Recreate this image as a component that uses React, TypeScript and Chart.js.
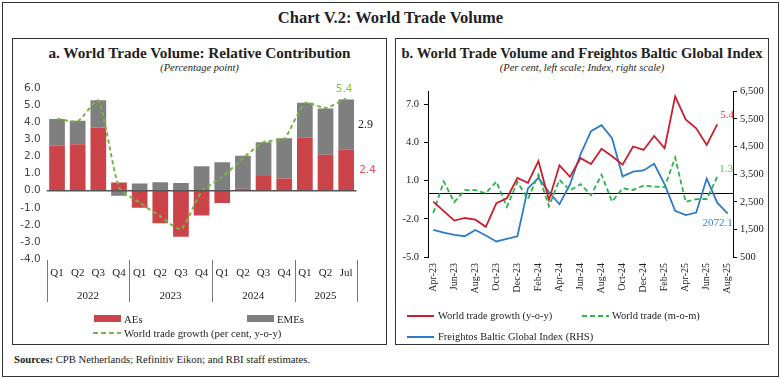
import React, { useEffect, useRef } from "react";
import { Chart, registerables } from "chart.js";

Chart.register(...registerables);

// ---------- Panel a data ----------
const quarterLabels = ["Q1", "Q2", "Q3", "Q4", "Q1", "Q2", "Q3", "Q4", "Q1", "Q2", "Q3", "Q4", "Q1", "Q2", "Jul"];
const yearGroups = [
  { year: "2022", first: 0, last: 3 },
  { year: "2023", first: 4, last: 7 },
  { year: "2024", first: 8, last: 11 },
  { year: "2025", first: 12, last: 14 },
];
const aeContribution = [2.65, 2.72, 3.7, 0.48, -1.0, -1.9, -2.7, -1.45, -0.72, 0.12, 0.86, 0.72, 3.1, 2.1, 2.4];
const emeContribution = [1.55, 1.38, 1.6, -0.3, 0.42, 0.5, 0.45, 1.44, 1.67, 1.93, 1.98, 2.36, 2.06, 2.72, 2.95];
const worldTradeGrowthQ = [4.22, 4.07, 5.28, 0.2, -0.7, -1.5, -2.25, -0.05, 0.8, 1.9, 2.85, 3.05, 5.13, 4.85, 5.4];

// ---------- Panel b data ----------
const monthLabels = [
  "Apr-23", "May-23", "Jun-23", "Jul-23", "Aug-23", "Sep-23", "Oct-23", "Nov-23", "Dec-23",
  "Jan-24", "Feb-24", "Mar-24", "Apr-24", "May-24", "Jun-24", "Jul-24", "Aug-24", "Sep-24",
  "Oct-24", "Nov-24", "Dec-24", "Jan-25", "Feb-25", "Mar-25", "Apr-25", "May-25", "Jun-25",
  "Jul-25", "Aug-25",
];
const tradeGrowthYoY = [-0.65, -1.4, -2.14, -1.94, -2.07, -2.63, -0.78, -0.39, 1.2, 0.82, 2.52, -0.52, 2.19, 1.29, 2.76, 2.3, 3.5, 2.9, 2.24, 3.67, 3.4, 4.5, 3.53, 7.6, 5.8, 5.1, 3.79, 5.4];
const tradeMoM = [-1.55, 0.92, -0.7, 0.25, 0.25, 0.0, 0.92, -1.05, 0.88, -0.45, 1.45, -1.03, 1.05, 0.22, 0.72, -0.15, 1.45, -0.65, 0.39, 0.26, 0.6, 0.53, 0.48, 2.8, -0.68, -0.46, -0.45, 1.3];
const freightosIndex = [1480, 1384, 1301, 1251, 1480, 1276, 1062, 1158, 1251, 2983, 3362, 2851, 2411, 3127, 4220, 5058, 5273, 4800, 3419, 3590, 3635, 3875, 3127, 2171, 2017, 2110, 3341, 2468, 2072.1];
const leftTicksB = [-5, -2, 1, 4, 7];

const SERIF = "'Liberation Serif', 'Times New Roman', serif";
const SANS = "'DejaVu Sans', sans-serif";

const RED = "#CB4449";
const GRAY = "#7F7F7F";
const GREEN_A = "#78B543";
const RED_B = "#C8202F";
const GREEN_B = "#2DB34A";
const BLUE_B = "#2F7BC8";

function LeftChart() {
  const ref = useRef<HTMLCanvasElement | null>(null);
  useEffect(() => {
    if (!ref.current) return;
    const decor = {
      id: "leftDecor",
      afterDatasetsDraw(chart: any) {
        const { ctx, chartArea } = chart;
        const ys = chart.scales.y;
        ctx.save();
        const y0 = ys.getPixelForValue(0);
        ctx.strokeStyle = "#555";
        ctx.lineWidth = 1.5;
        ctx.beginPath();
        ctx.moveTo(chartArea.left, y0);
        ctx.lineTo(chartArea.right, y0);
        ctx.stroke();
        ctx.restore();
      },
      afterDraw(chart: any) {
        const { ctx, chartArea } = chart;
        const xs = chart.scales.x;
        const ys = chart.scales.y;
        ctx.save();
        const bounds: number[] = [chartArea.left];
        for (let g = 0; g < yearGroups.length - 1; g++) {
          const a = xs.getPixelForValue(yearGroups[g].last);
          const b = xs.getPixelForValue(yearGroups[g + 1].first);
          bounds.push((a + b) / 2);
        }
        bounds.push(chartArea.right);
        ctx.strokeStyle = "#777";
        ctx.lineWidth = 1;
        bounds.forEach((bx) => {
          const x = Math.round(bx) + 0.5;
          ctx.beginPath();
          ctx.moveTo(x, chartArea.bottom + 1);
          ctx.lineTo(x, chartArea.bottom + 43);
          ctx.stroke();
        });
        ctx.fillStyle = "#222";
        ctx.font = `11px ${SERIF}`;
        ctx.textAlign = "center";
        ctx.textBaseline = "middle";
        yearGroups.forEach((g) => {
          const cx = (xs.getPixelForValue(g.first) + xs.getPixelForValue(g.last)) / 2;
          ctx.fillText(g.year, cx, chartArea.bottom + 37);
        });
        const n = quarterLabels.length - 1;
        const lastX = xs.getPixelForValue(n);
        ctx.font = `10.5px ${SANS}`;
        ctx.fillStyle = "#8CBF4F";
        ctx.fillText(worldTradeGrowthQ[n].toFixed(1), lastX - 2, ys.getPixelForValue(worldTradeGrowthQ[n]) - 9);
        ctx.font = `12px ${SERIF}`;
        ctx.fillStyle = "#222";
        ctx.fillText("2.9", chartArea.right + 9, ys.getPixelForValue(aeContribution[n] + emeContribution[n] / 2));
        ctx.font = `10.5px ${SANS}`;
        ctx.fillStyle = "#E0505A";
        ctx.fillText(aeContribution[n].toFixed(1), chartArea.right + 11, ys.getPixelForValue(aeContribution[n] / 2));
        ctx.restore();
      },
    };
    const chart = new Chart(ref.current, {
      type: "bar",
      data: {
        labels: quarterLabels,
        datasets: [
          {
            type: "line",
            label: "World trade growth (per cent, y-o-y)",
            data: worldTradeGrowthQ,
            borderColor: GREEN_A,
            borderDash: [4, 3],
            borderWidth: 2,
            pointRadius: 0,
            tension: 0.2,
            fill: false,
            stack: "line",
            order: 0,
          } as any,
          {
            type: "bar",
            label: "AEs",
            data: aeContribution,
            backgroundColor: RED,
            stack: "bars",
            order: 1,
            barPercentage: 0.76,
            categoryPercentage: 1,
          },
          {
            type: "bar",
            label: "EMEs",
            data: emeContribution,
            backgroundColor: GRAY,
            stack: "bars",
            order: 1,
            barPercentage: 0.76,
            categoryPercentage: 1,
          },
        ],
      },
      options: {
        animation: false,
        responsive: false,
        maintainAspectRatio: false,
        layout: { padding: { left: 0, right: 29.5, top: 9.7, bottom: 0 } },
        plugins: { legend: { display: false }, tooltip: { enabled: false } },
        scales: {
          x: {
            stacked: true,
            grid: { display: false, drawTicks: false },
            border: { display: false },
            ticks: { autoSkip: false, maxRotation: 0, padding: 8, color: "#222", font: { family: SERIF, size: 11 } },
            afterFit: (s: any) => {
              s.height = 57;
            },
          },
          y: {
            stacked: true,
            min: -4,
            max: 6,
            grid: { display: false, drawTicks: false },
            border: { display: false },
            ticks: {
              stepSize: 1,
              padding: 6,
              color: "#444",
              font: { family: SANS, size: 10.5 },
              callback: (v: any) => Number(v).toFixed(1),
            },
            afterFit: (s: any) => {
              s.width = 36.7;
            },
          },
        },
      } as any,
      plugins: [decor],
    });
    return () => chart.destroy();
  }, []);
  return (
    <canvas
      ref={ref}
      width={376}
      height={240}
      style={{ position: "absolute", left: 10, top: 76, width: 376, height: 240 }}
    />
  );
}

function RightChart() {
  const ref = useRef<HTMLCanvasElement | null>(null);
  useEffect(() => {
    if (!ref.current) return;
    const decor = {
      id: "rightDecor",
      beforeDatasetsDraw(chart: any) {
        const { ctx, chartArea } = chart;
        const ys = chart.scales.y;
        ctx.save();
        const y0 = Math.round(ys.getPixelForValue(0)) + 0.5;
        ctx.strokeStyle = "#000";
        ctx.lineWidth = 1.2;
        ctx.beginPath();
        ctx.moveTo(chartArea.left, y0);
        ctx.lineTo(chartArea.right, y0);
        ctx.stroke();
        ctx.restore();
      },
      afterDraw(chart: any) {
        const { ctx } = chart;
        const xs = chart.scales.x;
        const ys = chart.scales.y;
        const y2 = chart.scales.y2;
        ctx.save();
        ctx.font = `11px ${SERIF}`;
        ctx.textBaseline = "middle";
        const iy = tradeGrowthYoY.length - 1;
        ctx.textAlign = "left";
        ctx.fillStyle = "#E0303F";
        ctx.fillText(tradeGrowthYoY[iy].toFixed(1), xs.getPixelForValue(iy) + 3, ys.getPixelForValue(tradeGrowthYoY[iy]) - 9);
        const im = tradeMoM.length - 1;
        ctx.fillStyle = "#5DBB63";
        ctx.fillText(tradeMoM[im].toFixed(1), xs.getPixelForValue(im) + 2, ys.getPixelForValue(tradeMoM[im]) - 8);
        const ib = freightosIndex.length - 1;
        ctx.textAlign = "right";
        ctx.fillStyle = "#3C85C8";
        ctx.fillText(freightosIndex[ib].toFixed(1), xs.getPixelForValue(ib) + 5, y2.getPixelForValue(freightosIndex[ib]) + 10);
        ctx.restore();
      },
    };
    const tickFont = { family: SERIF, size: 10.5 };
    const chart = new Chart(ref.current, {
      type: "line",
      data: {
        labels: monthLabels,
        datasets: [
          {
            label: "World trade growth (y-o-y)",
            data: tradeGrowthYoY,
            borderColor: RED_B,
            borderWidth: 1.8,
            pointRadius: 0,
            tension: 0,
            fill: false,
            yAxisID: "y",
          },
          {
            label: "World trade (m-o-m)",
            data: tradeMoM,
            borderColor: GREEN_B,
            borderWidth: 1.8,
            borderDash: [5, 3],
            pointRadius: 0,
            tension: 0,
            fill: false,
            yAxisID: "y",
          },
          {
            label: "Freightos Baltic Global Index (RHS)",
            data: freightosIndex,
            borderColor: BLUE_B,
            borderWidth: 1.8,
            pointRadius: 0,
            tension: 0,
            fill: false,
            yAxisID: "y2",
          },
        ],
      },
      options: {
        animation: false,
        responsive: false,
        maintainAspectRatio: false,
        layout: { padding: { left: 0, right: 0, top: 9, bottom: 0 } },
        plugins: { legend: { display: false }, tooltip: { enabled: false } },
        scales: {
          x: {
            offset: true,
            grid: { display: false, drawTicks: false },
            border: { display: false },
            ticks: {
              autoSkip: false,
              minRotation: 90,
              maxRotation: 90,
              padding: 6,
              color: "#222",
              font: { family: SERIF, size: 10 },
              callback: (v: any, i: number) => (i % 2 === 0 ? monthLabels[i] : ""),
            },
            afterFit: (s: any) => {
              s.height = 48;
            },
          },
          y: {
            position: "left",
            min: -5,
            max: 8,
            afterBuildTicks: (s: any) => {
              s.ticks = leftTicksB.map((v) => ({ value: v }));
            },
            grid: { display: true, drawOnChartArea: false, drawTicks: true, tickLength: 4, color: "#000" },
            border: { display: true, color: "#000", width: 1 },
            ticks: { padding: 5, color: "#222", font: tickFont, callback: (v: any) => Number(v).toFixed(1) },
            afterFit: (s: any) => {
              s.width = 31;
            },
          },
          y2: {
            position: "right",
            min: 500,
            max: 6500,
            grid: { display: true, drawOnChartArea: false, drawTicks: true, tickLength: 4, color: "#000" },
            border: { display: true, color: "#000", width: 1 },
            ticks: { stepSize: 1000, padding: 3, color: "#222", font: tickFont },
            afterFit: (s: any) => {
              s.width = 38;
            },
          },
        },
      } as any,
      plugins: [decor],
    });
    return () => chart.destroy();
  }, []);
  return (
    <canvas
      ref={ref}
      width={374}
      height={225}
      style={{ position: "absolute", left: 397, top: 80, width: 374, height: 225 }}
    />
  );
}

const abs = (o: React.CSSProperties): React.CSSProperties => ({ position: "absolute", ...o });
const legendText: React.CSSProperties = {
  fontFamily: SERIF,
  fontSize: 10.5,
  color: "#222",
  lineHeight: "12px",
  whiteSpace: "nowrap",
};

function DashSwatch({ left, top, color, width }: { left: number; top: number; color: string; width: number }) {
  return (
    <svg style={abs({ left, top: top - 2, width, height: 4 })} width={width} height={4}>
      <line x1={0} y1={2} x2={width} y2={2} stroke={color} strokeWidth={2} strokeDasharray="5,3" />
    </svg>
  );
}

export default function App() {
  return (
    <div style={abs({ left: 0, top: 0, width: 781, height: 380, background: "#fff", overflow: "hidden", fontFamily: SERIF })}>
      <div style={abs({ left: 2, top: 2, width: 775, height: 373, border: "1px solid #333" })} />
      <div style={abs({ left: 0, top: 8, width: 781, textAlign: "center", fontSize: 16.5, fontWeight: "bold", lineHeight: "20px", color: "#222" })}>
        Chart V.2: World Trade Volume
      </div>

      {/* Panel a */}
      <div style={abs({ left: 12, top: 38, width: 373, height: 305, border: "1px solid #333" })} />
      <div style={abs({ left: 12, top: 44, width: 375, textAlign: "center", fontSize: 15.2, fontWeight: "bold", lineHeight: "18px", color: "#222" })}>
        a. World Trade Volume: Relative Contribution
      </div>
      <div style={abs({ left: 12, top: 62, width: 375, textAlign: "center", fontSize: 10.5, fontStyle: "italic", lineHeight: "12px", color: "#222" })}>
        (Percentage point)
      </div>
      <LeftChart />
      <div style={abs({ left: 94, top: 315, width: 27, height: 7, background: RED })} />
      <div style={abs({ left: 124, top: 312.5, ...legendText, fontSize: 10.8 })}>AEs</div>
      <div style={abs({ left: 247, top: 315, width: 27, height: 7, background: GRAY })} />
      <div style={abs({ left: 277, top: 312.5, ...legendText, fontSize: 10.8 })}>EMEs</div>
      <DashSwatch left={93} top={333} color={GREEN_A} width={28} />
      <div style={abs({ left: 124, top: 327, ...legendText, fontSize: 10.8 })}>World trade growth (per cent, y-o-y)</div>

      {/* Panel b */}
      <div style={abs({ left: 395, top: 38, width: 372, height: 305, border: "1px solid #333" })} />
      <div style={abs({ left: 395, top: 44, width: 374, textAlign: "center", fontSize: 14.6, fontWeight: "bold", lineHeight: "18px", color: "#222" })}>
        b. World Trade Volume and Freightos Baltic Global Index
      </div>
      <div style={abs({ left: 395, top: 62, width: 374, textAlign: "center", fontSize: 10.5, fontStyle: "italic", lineHeight: "12px", color: "#222" })}>
        (Per cent, left scale; Index, right scale)
      </div>
      <RightChart />
      <div style={abs({ left: 407, top: 315, width: 27, height: 2, background: RED_B })} />
      <div style={abs({ left: 438, top: 310, ...legendText })}>World trade growth (y-o-y)</div>
      <DashSwatch left={582} top={316} color={GREEN_B} width={27} />
      <div style={abs({ left: 612, top: 310, ...legendText })}>World trade (m-o-m)</div>
      <div style={abs({ left: 407, top: 336, width: 27, height: 2, background: BLUE_B })} />
      <div style={abs({ left: 438, top: 331, ...legendText })}>Freightos Baltic Global Index (RHS)</div>

      <div style={abs({ left: 14, top: 352, ...legendText, fontSize: 10.7, lineHeight: "14px" })}>
        <b>Sources:</b> CPB Netherlands; Refinitiv Eikon; and RBI staff estimates.
      </div>
    </div>
  );
}
